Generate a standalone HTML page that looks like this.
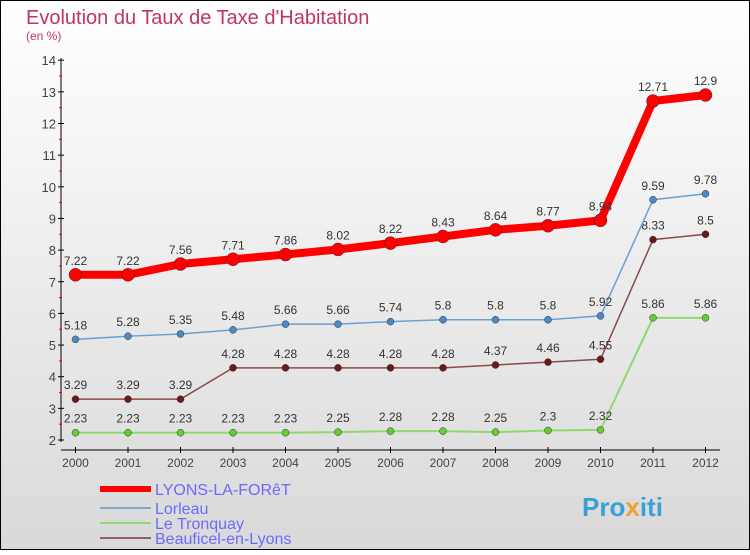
<!DOCTYPE html>
<html><head><meta charset="utf-8"><style>
body{margin:0;}
#c{width:750px;height:550px;position:relative;font-family:"Liberation Sans",sans-serif;}
</style></head><body>
<div id="c">
<svg id="s" width="750" height="550" xmlns="http://www.w3.org/2000/svg">
<defs><linearGradient id="bg" x1="0" y1="0" x2="0" y2="1"><stop offset="0" stop-color="#ffffff"/><stop offset="1" stop-color="#d9d9d9"/></linearGradient></defs>
<rect x="0.5" y="0.5" width="749" height="549" fill="url(#bg)" stroke="#000"/>
<text x="26" y="24" font-size="20" fill="#c0365e">Evolution du Taux de Taxe d'Habitation</text>
<text x="26" y="40" font-size="12" fill="#c0365e">(en %)</text>
<g id="axes"></g><g id="series"></g><g id="legend"></g>
<text x="582" y="516" font-size="26" font-weight="bold" fill="#3aa0d8">Pro<tspan fill="#f0a030">x</tspan>iti</text>
</svg></div>
<script>
const years=["2000","2001","2002","2003","2004","2005","2006","2007","2008","2009","2010","2011","2012"];
const yTicks=[2,3,4,5,6,7,8,9,10,11,12,13,14];
const lyons=[7.22,7.22,7.56,7.71,7.86,8.02,8.22,8.43,8.64,8.77,8.94,12.71,12.9];
const lyonsLbl=["7.22","7.22","7.56","7.71","7.86","8.02","8.22","8.43","8.64","8.77","8.94","12.71","12.9"];
const lorleau=[5.18,5.28,5.35,5.48,5.66,5.66,5.74,5.8,5.8,5.8,5.92,9.59,9.78];
const lorleauLbl=["5.18","5.28","5.35","5.48","5.66","5.66","5.74","5.8","5.8","5.8","5.92","9.59","9.78"];
const tronquay=[2.23,2.23,2.23,2.23,2.23,2.25,2.28,2.28,2.25,2.3,2.32,5.86,5.86];
const tronquayLbl=["2.23","2.23","2.23","2.23","2.23","2.25","2.28","2.28","2.25","2.3","2.32","5.86","5.86"];
const beauficel=[3.29,3.29,3.29,4.28,4.28,4.28,4.28,4.28,4.37,4.46,4.55,8.33,8.5];
const beauficelLbl=["3.29","3.29","3.29","4.28","4.28","4.28","4.28","4.28","4.37","4.46","4.55","8.33","8.5"];
const NS="http://www.w3.org/2000/svg";
const X=i=>75.5+i*52.5, Y=v=>440-(v-2)*31.65;
function mk(t,a,p){const e=document.createElementNS(NS,t);for(const k in a)e.setAttribute(k,a[k]);p.appendChild(e);return e;}
const ax=document.getElementById('axes');
let l=mk('line',{x1:61,y1:58,x2:61,y2:442,stroke:'#000'},ax);


l=mk('line',{x1:61,y1:450,x2:720,y2:450,stroke:'#000'},ax);


yTicks.forEach(v=>{mk('line',{x1:58,y1:Y(v),x2:64,y2:Y(v),stroke:'#000'},ax);
 if(v<14)mk('line',{x1:59,y1:Y(v+0.5),x2:62,y2:Y(v+0.5),stroke:'#f00'},ax);
 const t=mk('text',{x:56,y:Y(v)+5,'text-anchor':'end','font-size':13,fill:'#444'},ax);t.textContent=v;
 
 });
years.forEach((y,i)=>{mk('line',{x1:X(i),y1:447,x2:X(i),y2:453,stroke:'#000'},ax);
 const t=mk('text',{x:X(i),y:467,'text-anchor':'middle','font-size':12,fill:'#444'},ax);t.textContent=y;
 
 });
const se=document.getElementById('series');
function draw(vals,lbls,color,w,r,dot,name){
 const g=mk('g',{},se);
 
 
 mk('polyline',{points:vals.map((v,i)=>X(i)+','+Y(v)).join(' '),fill:'none',stroke:color,'stroke-width':w,'stroke-linejoin':'round'},g);
 vals.forEach((v,i)=>{const c=mk('circle',{cx:X(i),cy:Y(v),r:r,fill:dot,stroke:'#333','stroke-width':0.5},g);
 
 
 const t=mk('text',{x:X(i),y:Y(v)-10,'text-anchor':'middle','font-size':12,fill:'#333'},g);t.textContent=lbls[i];
 
 });
}
draw(tronquay,tronquayLbl,'#90d870',2,3.5,'#6c3','series-le-tronquay');
draw(beauficel,beauficelLbl,'#8a4a4a',1.5,3.5,'#6a1a1a','series-beauficel');
draw(lorleau,lorleauLbl,'#6aa0d0',1.5,3.5,'#4a8ac8','series-lorleau');
draw(lyons,lyonsLbl,'#f00',8,6.5,'#f00','series-lyons-la-foret');
const lg=document.getElementById('legend');
const items=[["LYONS-LA-FORêT",'#f00',6,489],["Lorleau",'#7aaad0',2,508],["Le Tronquay",'#90d870',2,523],["Beauficel-en-Lyons",'#906060',2,538]];
items.forEach(it=>{const g=mk('g',{},lg);
 
 
 mk('line',{x1:100,y1:it[3],x2:151,y2:it[3],stroke:it[1],'stroke-width':it[2]},g);
 const t=mk('text',{x:155,y:it[3]+6,'font-size':16,fill:'#6a6aff'},g);t.textContent=it[0];});
</script>
</body></html>
